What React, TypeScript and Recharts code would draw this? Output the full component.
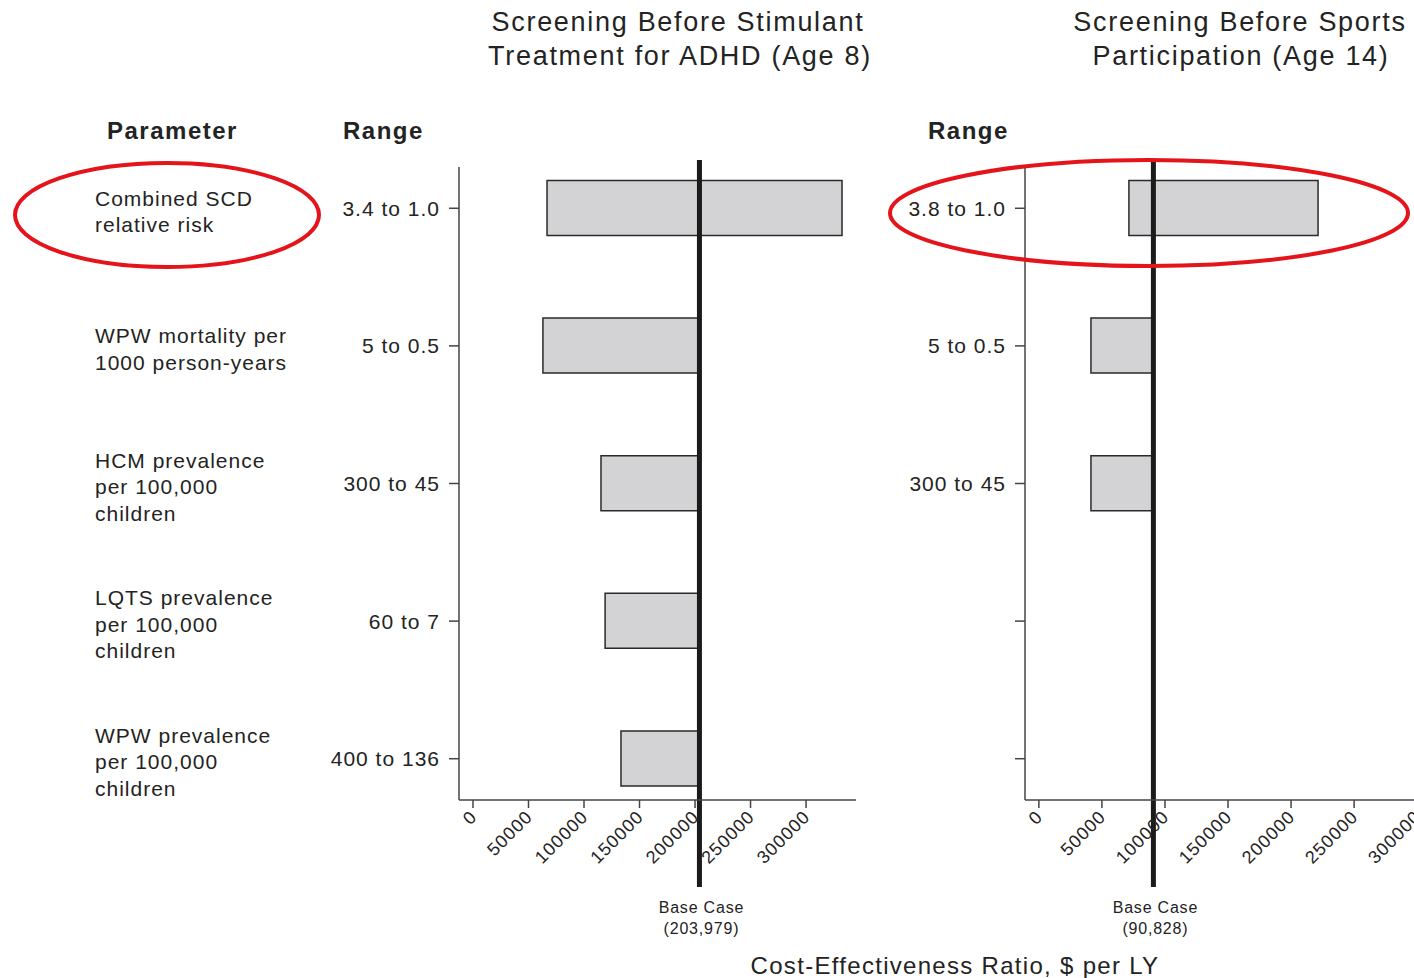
import React from 'react';
import { BarChart, Bar, XAxis, YAxis, ReferenceLine } from 'recharts';

// rows of the tornado, top to bottom
const rowIds = [1, 2, 3, 4, 5];
const parameterLines = [
  ['Combined SCD', 'relative risk'],
  ['WPW mortality per', '1000 person-years'],
  ['HCM prevalence', 'per 100,000', 'children'],
  ['LQTS prevalence', 'per 100,000', 'children'],
  ['WPW prevalence', 'per 100,000', 'children'],
];

// Screening before stimulant treatment (age 8)
const adhdRangeLabels = ['3.4 to 1.0', '5 to 0.5', '300 to 45', '60 to 7', '400 to 136'];
const adhdLow = [66700, 63000, 115300, 119000, 133300];
const adhdHigh = [332400, 203979, 203979, 203979, 203979];
const adhdBaseCase = 203979;

// Screening before sports participation (age 14)
const sportsRangeLabels = ['3.8 to 1.0', '5 to 0.5', '300 to 45', '', ''];
const sportsLow = [71400, 41300, 41300];
const sportsHigh = [221400, 90828, 90828];
const sportsBaseCase = 90828;

const costTicks = [0, 50000, 100000, 150000, 200000, 250000, 300000];

const FONT = '"Liberation Sans", Arial, Helvetica, sans-serif';
const INK = '#232323';
const AXIS = '#444';

const adhdData = adhdLow.map((low, i) => ({ row: rowIds[i], range: [low, adhdHigh[i]] }));
const sportsData = sportsLow.map((low, i) => ({ row: rowIds[i], range: [low, sportsHigh[i]] }));

const RangeTick = (props: any) => {
  const { x, y, payload, labels, showParams } = props;
  const i = rowIds.indexOf(payload.value);
  const lines: string[] = showParams ? parameterLines[i] || [] : [];
  return (
    <g>
      <text x={x} y={y} textAnchor="end" dominantBaseline="central" fontSize={21}
        letterSpacing={1} fill={INK} fontFamily={FONT}>
        {labels[i]}
      </text>
      {lines.map((t, k) => (
        <text key={k} x={95} y={y + 3 + (k - (lines.length - 1) / 2) * 26.5}
          dominantBaseline="central" fontSize={21} letterSpacing={1} fill={INK} fontFamily={FONT}>
          {t}
        </text>
      ))}
    </g>
  );
};

const CostTick = (props: any) => {
  const { x, y, payload } = props;
  const ax = x + 5;
  const ay = y + 8;
  return (
    <text x={ax} y={ay} transform={`rotate(-45 ${ax} ${ay})`} textAnchor="end"
      fontSize={18} letterSpacing={1} fill={INK} fontFamily={FONT}>
      {payload.value}
    </text>
  );
};

const baseCaseShape = (value: number) => (props: any) => {
  const { x1, y1, y2 } = props;
  const top = Math.min(y1, y2) - 7;
  const bottom = Math.max(y1, y2) + 87;
  return (
    <g>
      <line x1={x1} x2={x1} y1={top} y2={bottom} stroke="#1b1b1b" strokeWidth={5} />
      <text x={x1 + 2} y={bottom + 20} textAnchor="middle" dominantBaseline="central"
        fontSize={16} letterSpacing={0.8} fill={INK} fontFamily={FONT}>
        Base Case
      </text>
      <text x={x1 + 2} y={bottom + 41} textAnchor="middle" dominantBaseline="central"
        fontSize={16} letterSpacing={0.8} fill={INK} fontFamily={FONT}>
        ({value.toLocaleString('en-US')})
      </text>
    </g>
  );
};

const axisLine = { stroke: AXIS, strokeWidth: 1.5 };

interface PanelProps {
  data: { row: number; range: number[] }[];
  labels: string[];
  showParams: boolean;
  baseCase: number;
  domain: [number, number];
  width: number;
  yAxisWidth: number;
  rightMargin: number;
}

const TornadoPanel: React.FC<PanelProps> = ({ data, labels, showParams, baseCase, domain, width, yAxisWidth, rightMargin }) => (
  <BarChart
    layout="vertical"
    width={width}
    height={978}
    data={data}
    margin={{ top: 167, right: rightMargin, bottom: 118, left: 0 }}
  >
    <XAxis
      type="number"
      domain={domain}
      allowDataOverflow
      ticks={costTicks}
      interval={0}
      height={60}
      tickSize={8}
      axisLine={axisLine}
      tickLine={axisLine}
      tick={<CostTick />}
    />
    <YAxis
      type="number"
      dataKey="row"
      domain={[0.7, 5.3]}
      allowDataOverflow
      ticks={rowIds}
      interval={0}
      width={yAxisWidth}
      tickSize={10}
      tickMargin={9}
      axisLine={axisLine}
      tickLine={axisLine}
      tick={(p: any) => <RangeTick {...p} labels={labels} showParams={showParams} />}
    />
    <Bar dataKey="range" barSize={55} fill="#d3d3d5" stroke="#2a2a2a" strokeWidth={1.5} isAnimationActive={false} />
    <ReferenceLine x={baseCase} shape={baseCaseShape(baseCase)} />
  </BarChart>
);

const textStyle = { fontFamily: FONT, fill: INK };

export default function App() {
  return (
    <div style={{ position: 'absolute', left: 0, top: 0, width: 1414, height: 978, overflow: 'hidden', background: '#fff' }}>
      <div style={{ position: 'absolute', left: 0, top: 0 }}>
        <TornadoPanel data={adhdData} labels={adhdRangeLabels} showParams baseCase={adhdBaseCase}
          domain={[-12600, 345000]} width={880} yAxisWidth={459} rightMargin={24} />
      </div>
      <div style={{ position: 'absolute', left: 880, top: 0 }}>
        <TornadoPanel data={sportsData} labels={sportsRangeLabels} showParams={false} baseCase={sportsBaseCase}
          domain={[-11000, 330000]} width={585} yAxisWidth={145} rightMargin={10} />
      </div>
      <svg width={1414} height={978} style={{ position: 'absolute', left: 0, top: 0, pointerEvents: 'none' }}>
        <g {...textStyle} fontSize={27} letterSpacing={1.7} textAnchor="middle" dominantBaseline="central">
          <text x={678} y={22}>Screening Before Stimulant</text>
          <text x={680} y={56}>Treatment for ADHD (Age 8)</text>
          <text x={1240} y={22}>Screening Before Sports</text>
          <text x={1241} y={56}>Participation (Age 14)</text>
        </g>
        <g {...textStyle} fontSize={24} fontWeight="bold" letterSpacing={1.5} dominantBaseline="central">
          <text x={107} y={130}>Parameter</text>
          <text x={343} y={130}>Range</text>
          <text x={928} y={130}>Range</text>
        </g>
        <text {...textStyle} x={955} y={965} fontSize={24} letterSpacing={1.3} textAnchor="middle" dominantBaseline="central">
          Cost-Effectiveness Ratio, $ per LY
        </text>
        <ellipse cx={167} cy={215} rx={152} ry={52} fill="none" stroke="#e5141b" strokeWidth={4} />
        <ellipse cx={1149} cy={213} rx={259} ry={53} fill="none" stroke="#e5141b" strokeWidth={4} />
      </svg>
    </div>
  );
}
